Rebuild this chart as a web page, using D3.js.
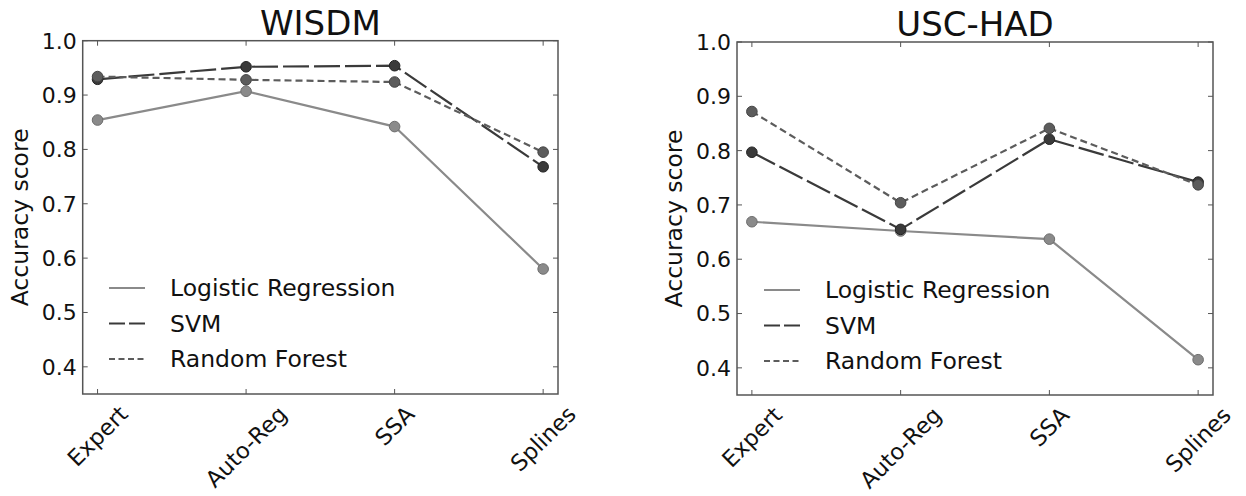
<!DOCTYPE html>
<html>
<head>
<meta charset="utf-8">
<script src="https://cdn.jsdelivr.net/npm/d3@7"></script>
<style>
  body { margin: 0; background: #fff; }
  text { font-family: "DejaVu Sans", sans-serif; fill: #111; }
</style>
</head>
<body>
<svg width="1246" height="496"></svg>
<script>
(function(d3) {
    "use strict";

    // data
    var categories = ["Expert", "Auto-Reg", "SSA", "Splines"],
        seriesNames = ["Logistic Regression", "SVM", "Random Forest"],
        yTicks = [0.4, 0.5, 0.6, 0.7, 0.8, 0.9, 1.0],

        wisdmLR = [0.854, 0.907, 0.842, 0.580],
        wisdmSVM = [0.929, 0.952, 0.954, 0.768],
        wisdmRF = [0.934, 0.928, 0.924, 0.795],

        uscLR = [0.669, 0.652, 0.637, 0.415],
        uscSVM = [0.797, 0.655, 0.821, 0.742],
        uscRF = [0.872, 0.704, 0.841, 0.737];

    var styles = [
        { color: "#8a8a8a", edge: "#6e6e6e", dash: null, legendDash: null },
        { color: "#3a3a3a", edge: "#222", dash: "26,5", legendDash: "16,4" },
        { color: "#5c5c5c", edge: "#444", dash: "7,4", legendDash: "6,3.5" }
    ];

    var svg = d3.select("svg");

    function panel(opt) {
        var x = d3.scaleLinear().domain([-0.1, categories.length - 1 + 0.1]).range([opt.left, opt.right]),
            y = d3.scaleLinear().domain([0.35, 1.0]).range([opt.bottom, opt.top]),
            g = svg.append("g"),
            frame = "#555",
            tick = 5;

        // series
        opt.series.forEach(function(vals, i) {
            var st = styles[i],
                line = d3.line().x(function(d, j) { return x(j); }).y(function(d) { return y(d); });
            g.append("path")
                .attr("d", line(vals))
                .attr("fill", "none")
                .attr("stroke", st.color)
                .attr("stroke-width", 2.2)
                .attr("stroke-dasharray", st.dash);
            g.selectAll(null).data(vals).enter().append("circle")
                .attr("cx", function(d, j) { return x(j); })
                .attr("cy", function(d) { return y(d); })
                .attr("r", 5.3)
                .attr("fill", st.color)
                .attr("stroke", st.edge)
                .attr("stroke-width", 1);
        });

        // frame and inward ticks on all four sides
        g.append("rect")
            .attr("x", opt.left).attr("y", opt.top)
            .attr("width", opt.right - opt.left).attr("height", opt.bottom - opt.top)
            .attr("fill", "none").attr("stroke", frame).attr("stroke-width", 1.5);

        yTicks.forEach(function(t) {
            g.append("line").attr("x1", opt.left).attr("x2", opt.left + tick)
                .attr("y1", y(t)).attr("y2", y(t)).attr("stroke", frame);
            g.append("line").attr("x1", opt.right).attr("x2", opt.right - tick)
                .attr("y1", y(t)).attr("y2", y(t)).attr("stroke", frame);
            g.append("text")
                .attr("x", opt.left - 6).attr("y", y(t))
                .attr("dy", "0.36em")
                .attr("text-anchor", "end")
                .attr("font-size", 22)
                .text(d3.format(".1f")(t));
        });

        categories.forEach(function(c, j) {
            g.append("line").attr("x1", x(j)).attr("x2", x(j))
                .attr("y1", opt.bottom).attr("y2", opt.bottom - tick).attr("stroke", frame);
            g.append("line").attr("x1", x(j)).attr("x2", x(j))
                .attr("y1", opt.top).attr("y2", opt.top + tick).attr("stroke", frame);
            var lab = g.append("text")
                .attr("font-size", 22.5)
                .attr("text-anchor", "middle")
                .attr("dy", "0.35em")
                .text(c);
            var w = lab.node().getComputedTextLength(),
                half = (w + 17) * Math.SQRT1_2 / 2;
            lab.attr("transform", "translate(" + x(j) + "," + (opt.bottom + 10 + half) + ") rotate(-45)");
        });

        // title and y label
        g.append("text")
            .attr("x", (opt.left + opt.right) / 2).attr("y", opt.top - 6)
            .attr("text-anchor", "middle")
            .attr("font-size", 34)
            .text(opt.title);

        g.append("text")
            .attr("transform", "translate(" + (opt.left - 55) + "," + ((opt.top + opt.bottom) / 2) + ") rotate(-90)")
            .attr("text-anchor", "middle")
            .attr("font-size", 23.5)
            .text("Accuracy score");

        // legend
        seriesNames.forEach(function(name, i) {
            var st = styles[i],
                ly = opt.legendY + i * 35.5;
            g.append("line")
                .attr("x1", opt.legendX).attr("x2", opt.legendX + 36)
                .attr("y1", ly).attr("y2", ly)
                .attr("stroke", st.color).attr("stroke-width", 2.2)
                .attr("stroke-dasharray", st.legendDash);
            g.append("text")
                .attr("x", opt.legendX + 61).attr("y", ly)
                .attr("dy", "0.35em")
                .attr("font-size", 23.5)
                .text(name);
        });
    }

    panel({ title: "WISDM", left: 82.7, right: 558, top: 40.7, bottom: 394,
            legendX: 109, legendY: 288, series: [wisdmLR, wisdmSVM, wisdmRF] });
    panel({ title: "USC-HAD", left: 737, right: 1213, top: 42, bottom: 395,
            legendX: 764, legendY: 290, series: [uscLR, uscSVM, uscRF] });

}(d3));
</script>
</body>
</html>
